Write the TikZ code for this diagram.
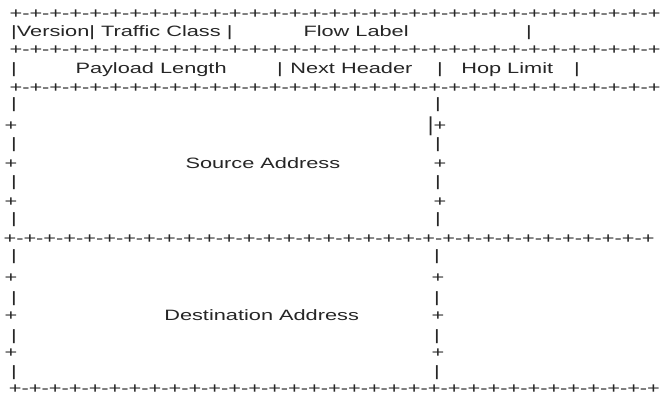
\documentclass[tikz,border=0pt]{standalone}
\usepackage{fontspec}
\usepackage{graphicx}
\setmainfont{Liberation Sans}
\newcommand\sx[1]{\scalebox{1.45}[1]{#1}}
\newcommand\plusrow{+-+-+-+-+-+-+-+-+-+-+-+-+-+-+-+-+-+-+-+-+-+-+-+-+-+-+-+-+-+-+-+-+}
\tikzset{
  txt/.style={anchor=base west, inner sep=0pt, outer sep=0pt, text=black!85,
    font=\fontsize{15}{18}\selectfont},
}
\begin{document}
\begin{tikzpicture}[x=1pt,y=-1pt]
\useasboundingbox[fill=white] (0,0) rectangle (660,396);
% plus rows
\node[txt] (p1) at (9.6,18.3) {\sx{\plusrow}};
\node[txt] (p2) at (9.6,54.3) {\sx{\plusrow}};
\node[txt] (p3) at (9.6,92.3) {\sx{\plusrow}};
\node[txt] (p4) at (3.6,243.3) {\sx{\plusrow}};
\node[txt] (p5) at (9.0,393.8) {\sx{\plusrow}};
% row 1 text
\node[txt] (r1a) at (11.2,36.5) {\sx{|Version| Traffic Class |}};
\node[txt] (r1b) at (303.5,36.5) {\sx{Flow Label}};
\node[txt] (r1c) at (526,36.5) {\sx{|}};
% row 2 text
\node[txt] (r2a) at (11.2,74) {\sx{|}};
\node[txt] (r2b) at (75.5,74) {\sx{Payload Length}};
\node[txt] (r2c) at (277,74) {\sx{|}};
\node[txt] (r2d) at (290.3,74) {\sx{Next Header}};
\node[txt] (r2e) at (437,74) {\sx{|}};
\node[txt] (r2f) at (461.3,74) {\sx{Hop Limit}};
\node[txt] (r2g) at (574,74) {\sx{|}};
% source address block, left column
\foreach \c [count=\i] in {105,145,183,220}
  \node[txt] (sl\i) at (11.2,\c+3.9) {\sx{|}};
\foreach \c [count=\i] in {125,163,201}
  \node[txt] (slp\i) at (4.6,\c+5.3) {\sx{+}};
% source address block, right column
\foreach \c [count=\i] in {105,145,183,220}
  \node[txt] (sr\i) at (435.2,\c+3.9) {\sx{|}};
\node[txt] (srp1) at (427.9,130.3) {\sx{\raisebox{-1.5pt}{\scalebox{1}[1.35]{|}}+}};
\foreach \c [count=\i from 2] in {163,201}
  \node[txt] (srp\i) at (433.6,\c+5.3) {\sx{+}};
\node[txt] (src) at (185.5,168.5) {\sx{Source Address}};
% destination address block, left column
\foreach \c [count=\i] in {257,299,337,373}
  \node[txt] (dl\i) at (11.2,\c+3.9) {\sx{|}};
\foreach \c [count=\i] in {277,315,352}
  \node[txt] (dlp\i) at (4.6,\c+5.3) {\sx{+}};
% destination address block, right column
\foreach \c [count=\i] in {257,299,337,373}
  \node[txt] (dr\i) at (434.2,\c+3.9) {\sx{|}};
\foreach \c [count=\i] in {277,315,352}
  \node[txt] (drp\i) at (431.6,\c+5.3) {\sx{+}};
\node[txt] (dst) at (164.3,320) {\sx{Destination Address}};
\end{tikzpicture}
\end{document}
